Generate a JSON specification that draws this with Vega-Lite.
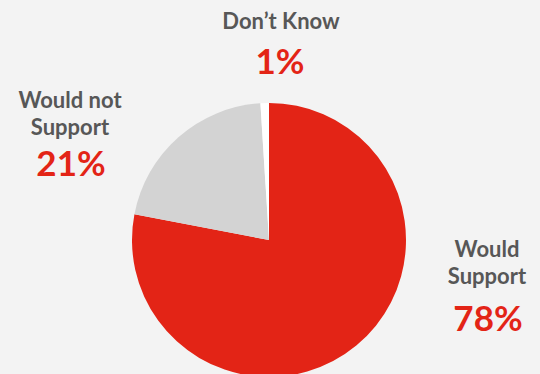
{
  "$schema": "https://vega.github.io/schema/vega-lite/v6.json",
  "width": 540,
  "height": 374,
  "autosize": {"type": "none"},
  "padding": 0,
  "background": "#f3f3f3",
  "config": {"view": {"stroke": null}, "font": "Lato"},
  "data": {
    "values": [
      {"category": "Would Support", "label": "Would\nSupport", "share": 0.78, "rank": 1},
      {"category": "Would not Support", "label": "Would not\nSupport", "share": 0.21, "rank": 2},
      {"category": "Don't Know", "label": "Don’t Know", "share": 0.01, "rank": 3}
    ]
  },
  "layer": [
    {
      "mark": {"type": "arc", "x": 269, "y": 240, "outerRadius": 137},
      "encoding": {
        "theta": {"field": "share", "type": "quantitative", "stack": true},
        "order": {"field": "rank", "type": "quantitative"},
        "color": {
          "field": "category",
          "type": "nominal",
          "scale": {
            "domain": ["Would Support", "Would not Support", "Don't Know"],
            "range": ["#e32416", "#d3d3d3", "#ffffff"]
          },
          "legend": null
        }
      }
    },
    {
      "transform": [{"filter": "datum.category === 'Would Support'"}],
      "layer": [
        {
          "mark": {"type": "text", "x": 487, "y": 250, "fontSize": 22, "fontWeight": "bold", "color": "#575757", "lineBreak": "\n", "lineHeight": 27, "baseline": "middle", "align": "center"},
          "encoding": {"text": {"field": "label"}}
        },
        {
          "mark": {"type": "text", "x": 488, "y": 320, "fontSize": 35, "fontWeight": "bold", "color": "#e32416", "baseline": "middle", "align": "center"},
          "encoding": {"text": {"field": "share", "type": "quantitative", "format": ".0%"}}
        }
      ]
    },
    {
      "transform": [{"filter": "datum.category === 'Would not Support'"}],
      "layer": [
        {
          "mark": {"type": "text", "x": 70, "y": 101, "fontSize": 22, "fontWeight": "bold", "color": "#575757", "lineBreak": "\n", "lineHeight": 27, "baseline": "middle", "align": "center"},
          "encoding": {"text": {"field": "label"}}
        },
        {
          "mark": {"type": "text", "x": 71, "y": 165, "fontSize": 35, "fontWeight": "bold", "color": "#e32416", "baseline": "middle", "align": "center"},
          "encoding": {"text": {"field": "share", "type": "quantitative", "format": ".0%"}}
        }
      ]
    },
    {
      "transform": [{"filter": "datum.category === \"Don't Know\""}],
      "layer": [
        {
          "mark": {"type": "text", "x": 281, "y": 22, "fontSize": 22, "fontWeight": "bold", "color": "#575757", "baseline": "middle", "align": "center"},
          "encoding": {"text": {"field": "label"}}
        },
        {
          "mark": {"type": "text", "x": 280, "y": 63, "fontSize": 35, "fontWeight": "bold", "color": "#e32416", "baseline": "middle", "align": "center"},
          "encoding": {"text": {"field": "share", "type": "quantitative", "format": ".0%"}}
        }
      ]
    }
  ]
}
